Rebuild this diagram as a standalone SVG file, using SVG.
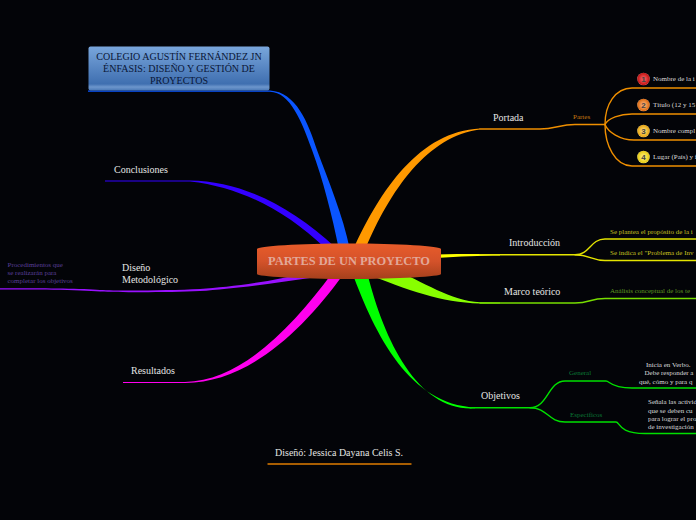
<svg xmlns="http://www.w3.org/2000/svg" width="696" height="520" viewBox="0 0 696 520">
<style>
text{font-family:"Liberation Serif",serif}
.main{font-size:10px;fill:#e4e4e4}
.sub{font-size:7px}
.item{font-size:7px;fill:#dcdcdc}
.l{fill:none;stroke-width:1.4;stroke-linecap:round}
.num{font-family:"Liberation Sans",sans-serif;font-size:8px;font-weight:bold;fill:#444;text-anchor:middle}
</style>
<defs>
<linearGradient id="cg" x1="0" y1="0" x2="0" y2="1"><stop offset="0" stop-color="#e85c2a"/><stop offset="0.5" stop-color="#d4522a"/><stop offset="1" stop-color="#a5401c"/></linearGradient>
<linearGradient id="bg" x1="0" y1="0" x2="0" y2="1"><stop offset="0" stop-color="#79a6dc"/><stop offset="0.85" stop-color="#3f6fb0"/><stop offset="0.92" stop-color="#6d96cc"/><stop offset="1" stop-color="#4a78b5"/></linearGradient>
<radialGradient id="b1" cx="0.5" cy="0.5" r="0.55"><stop offset="0.3" stop-color="#e85050"/><stop offset="0.8" stop-color="#c81818"/><stop offset="1" stop-color="#f8a0a0"/></radialGradient>
<radialGradient id="b2" cx="0.5" cy="0.5" r="0.55"><stop offset="0.3" stop-color="#f4a060"/><stop offset="0.8" stop-color="#e07018"/><stop offset="1" stop-color="#f8c8a0"/></radialGradient>
<radialGradient id="b3" cx="0.5" cy="0.5" r="0.55"><stop offset="0.3" stop-color="#f8d060"/><stop offset="0.8" stop-color="#e8a818"/><stop offset="1" stop-color="#fbeab0"/></radialGradient>
<radialGradient id="b4" cx="0.5" cy="0.5" r="0.55"><stop offset="0.3" stop-color="#f8e860"/><stop offset="0.8" stop-color="#e8cc18"/><stop offset="1" stop-color="#fbf6b0"/></radialGradient>
</defs>
<rect width="696" height="520" fill="#030408"/>
<g id="connectors">
<!-- Portada -->
<path d="M353 250C380 190 420 131 480 128.400V129.600C428 136 390 190 365 250Z" fill="#ff9900"/>
<path class="l" stroke="#ef8f00" d="M480 129H540C555 129 560 124.500 575 124.500H605"/>
<path class="l" stroke="#ef8f00" d="M605 124.500C605 105 615 88 632 88H696"/>
<path class="l" stroke="#ef8f00" d="M605 124.500C608 118 620 114 632 114H696"/>
<path class="l" stroke="#ef8f00" d="M605 124.500C608 132 620 140 634 140H696"/>
<path class="l" stroke="#ef8f00" d="M605 124.500C605 145 615 166 632 166H696"/>
<!-- Introducción -->
<path d="M436 254.500C460 254 480 254 500 254.200V255.400C480 255.400 460 256.500 436 258Z" fill="#ffff00"/>
<path class="l" stroke="#e4e400" d="M480 254.800H575C590 254.800 590 239 605 239H696"/>
<path class="l" stroke="#e4e400" d="M575 254.800C590 254.800 592 260.500 605 260.500H696"/>
<!-- Marco teórico -->
<path d="M390 268C425 282 450 301 480 302.300L500 302.600V303.600L480 303.600C440 302 410 291 362 272Z" fill="#88ff00"/>
<path class="l" stroke="#77dd00" d="M480 303H575C590 303 590 298.500 605 298.500H696"/>
<!-- Objetivos -->
<path d="M352 272C375 335 410 405 475 407.300V408.300C420 412 385 345 367 272Z" fill="#00ff00"/>
<path class="l" stroke="#00e000" d="M470 407.800H530C548 407.800 548 381 565 381H606C610 381 610 388 632 388H696"/>
<path class="l" stroke="#00e000" d="M530 407.800C548 407.800 548 422 565 422H616C620 422 618 433.500 645 433.500H696"/>
<!-- Colegio -->
<path d="M339 250C332 215 323 180 312 150C302 122 290 92 270 91.800H88V90.400H270C296 92 308 122 317 150C328 180 343 215 350 250Z" fill="#0a55ff"/>
<!-- Conclusiones -->
<path d="M105 180.500H190C240 181 290 205 336 248L325 248C285 210 240 187 190 181.500H105Z" fill="#3300ff"/>
<!-- Diseño -->
<path d="M0 288.200C30 288.200 80 288 100 290C120 291 170 290.500 200 289C230 287 270 282 310 272V278C270 284 230 289 200 291C170 292.500 120 292.500 100 291.500C80 289.500 30 289.400 0 289.400Z" fill="#9911ff"/>
<!-- Resultados -->
<path d="M123 381.900H185C240 381 290 330 333 272L345 272C300 335 245 383 185 382.900H123Z" fill="#ff00ee"/>
<!-- Diseñó -->
<path class="l" stroke="#e07c00" d="M268 464H411"/>
</g>
<g id="n-center">
<path d="M257 249C257 246 300 243.500 349 243.500C398 243.500 441 246 441 249V274C441 276.500 398 279 349 279C300 279 257 276.500 257 274Z" fill="url(#cg)"/>
<text x="349" y="265" text-anchor="middle" font-size="12.400" font-weight="bold" fill="#e2a898">PARTES DE UN PROYECTO</text>
</g>
<g id="n-colegio">
<rect x="88.500" y="46.500" width="181" height="44" rx="2" fill="url(#bg)"/>
<text text-anchor="middle" font-size="10" fill="#0a1636"><tspan x="179" y="60">COLEGIO AGUSTÍN FERNÁNDEZ JN</tspan><tspan x="179" y="72">ÉNFASIS: DISEÑO Y GESTIÓN DE</tspan><tspan x="179" y="83.500">PROYECTOS</tspan></text>
</g>
<g id="n-conclusiones"><text class="main" x="114" y="173">Conclusiones</text></g>
<g id="n-diseno"><text class="main"><tspan x="122" y="271">Diseño</tspan><tspan x="122" y="283">Metodológico</tspan></text></g>
<g id="n-procedimientos"><text class="sub" fill="#5a3f9a"><tspan x="7.500" y="267">Procedimientos que</tspan><tspan x="7.500" y="275">se realizarán para</tspan><tspan x="7.500" y="283">completar los objetivos</tspan></text></g>
<g id="n-resultados"><text class="main" x="131" y="374">Resultados</text></g>
<g id="n-credito"><text class="main" x="275" y="456">Diseñó: Jessica Dayana Celis S.</text></g>
<g id="n-portada"><text class="main" x="493" y="121">Portada</text></g>
<g id="n-partes"><text class="sub" x="573" y="119" fill="#c87a10">Partes</text></g>
<g id="n-p1"><circle cx="643.500" cy="79" r="6.300" fill="url(#b1)"/><text class="num" x="643.500" y="82">1</text><text class="item" x="653" y="81">Nombre de la i</text></g>
<g id="n-p2"><circle cx="643.500" cy="105" r="6.300" fill="url(#b2)"/><text class="num" x="643.500" y="108">2</text><text class="item" x="653" y="107">Título (12 y 15</text></g>
<g id="n-p3"><circle cx="643.500" cy="131" r="6.300" fill="url(#b3)"/><text class="num" x="643.500" y="134">3</text><text class="item" x="653" y="133">Nombre compl</text></g>
<g id="n-p4"><circle cx="643.500" cy="157" r="6.300" fill="url(#b4)"/><text class="num" x="643.500" y="160">4</text><text class="item" x="653" y="159">Lugar (País) y f</text></g>
<g id="n-intro"><text class="main" x="509" y="246">Introducción</text></g>
<g id="n-i1"><text class="sub" x="610" y="234" fill="#c8c020">Se plantea el propósito de la i</text></g>
<g id="n-i2"><text class="sub" x="610" y="255" fill="#c8c020">Se indica el "Problema de Inv</text></g>
<g id="n-marco"><text class="main" x="504" y="295">Marco teórico</text></g>
<g id="n-m1"><text class="sub" x="610" y="293" fill="#5f9a20">Análisis conceptual de los te</text></g>
<g id="n-objetivos"><text class="main" x="481" y="399">Objetivos</text></g>
<g id="n-general"><text class="sub" x="569" y="375" fill="#0a7a35">General</text></g>
<g id="n-especificos"><text class="sub" x="570" y="417" fill="#0a7a35">Específicos</text></g>
<g id="n-g1"><text class="item"><tspan x="646" y="367">Inicia en Verbo.</tspan><tspan x="644.500" y="375">Debe responder a</tspan><tspan x="639" y="383.500">qué, cómo y para q</tspan></text></g>
<g id="n-e1"><text class="item"><tspan x="648" y="404">Señala las activid</tspan><tspan x="648" y="412.500">que se deben cu</tspan><tspan x="648" y="421">para lograr el pro</tspan><tspan x="648" y="429">de investigación</tspan></text></g>
</svg>
